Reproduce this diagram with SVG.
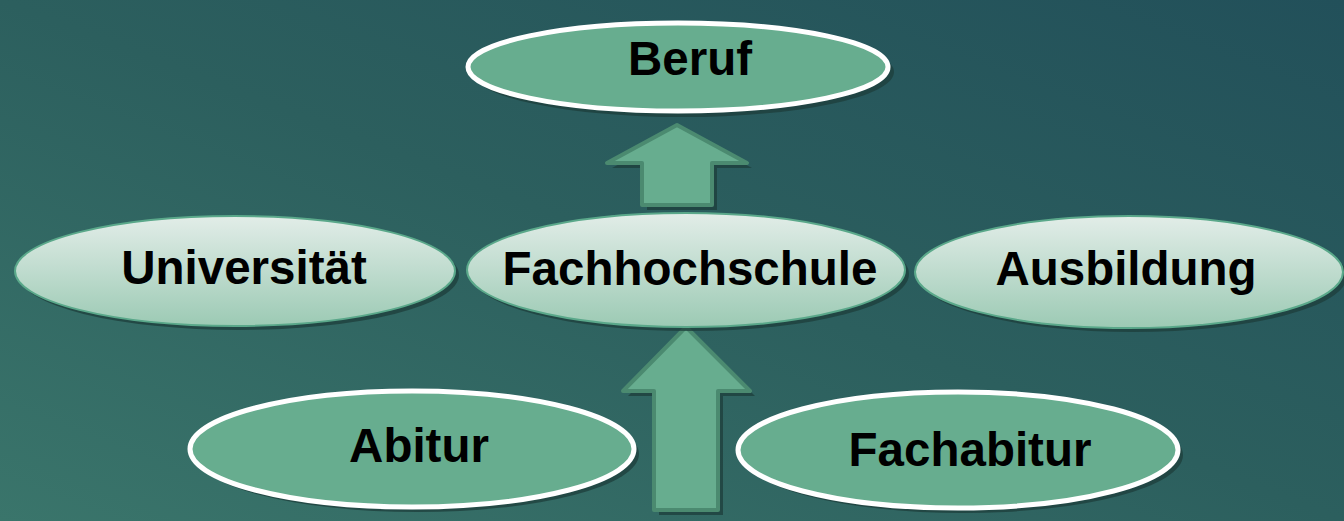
<svg xmlns="http://www.w3.org/2000/svg" width="1344" height="521" viewBox="0 0 1344 521">
<defs>
<linearGradient id="bg" x1="0" y1="1" x2="1" y2="0">
<stop offset="0" stop-color="#3a756b"/>
<stop offset="0.5" stop-color="#2c5f5e"/>
<stop offset="1" stop-color="#22505a"/>
</linearGradient>
<linearGradient id="pale" x1="0" y1="0" x2="0" y2="1">
<stop offset="0" stop-color="#e2ede8"/>
<stop offset="1" stop-color="#9ccab4"/>
</linearGradient>
<style>
.shadow{fill:#1d3d3b;opacity:0.75}
.solid{fill:#67ad8f;stroke:#ffffff;stroke-width:5}
.light{fill:url(#pale);stroke:#5aa88a;stroke-width:2}
.arrow{fill:#67ad8f;stroke:#4b8a70;stroke-width:4;stroke-linejoin:round}
.lbl{font-family:"Liberation Sans",Arial,sans-serif;font-weight:bold;font-size:47.5px;fill:#000;text-anchor:middle}
</style>
</defs>
<rect width="1344" height="521" fill="url(#bg)"/>
<g id="connectors">
<path class="shadow" d="M682,130 L752,168 L717,168 L717,210 L647,210 L647,168 L612,168 Z"/>
<path class="arrow" d="M677,125 L747,163 L712,163 L712,205 L642,205 L642,163 L607,163 Z"/>
<path class="shadow" d="M691,332 L755,396 L723,396 L723,515 L659,515 L659,396 L628,396 Z"/>
<path class="arrow" d="M686,327 L750,391 L718,391 L718,510 L654,510 L654,391 L623,391 Z"/>
</g>
<g id="node-beruf">
<ellipse class="shadow" cx="683" cy="72" rx="211" ry="45"/>
<ellipse class="solid" cx="678" cy="67" rx="210" ry="44"/>
<text class="lbl" x="690" y="75">Beruf</text>
</g>
<g id="node-universitaet">
<ellipse class="shadow" cx="239" cy="275" rx="220" ry="55"/>
<ellipse class="light" cx="235" cy="271" rx="220" ry="55"/>
<text class="lbl" x="244" y="284">Universität</text>
</g>
<g id="node-fachhochschule">
<ellipse class="shadow" cx="690" cy="274" rx="219" ry="57"/>
<ellipse class="light" cx="686" cy="270" rx="219" ry="57"/>
<text class="lbl" x="690" y="285">Fachhochschule</text>
</g>
<g id="node-ausbildung">
<ellipse class="shadow" cx="1133" cy="276" rx="214" ry="56"/>
<ellipse class="light" cx="1129" cy="272" rx="214" ry="56"/>
<text class="lbl" x="1126" y="285">Ausbildung</text>
</g>
<g id="node-abitur">
<ellipse class="shadow" cx="417" cy="454" rx="222" ry="58"/>
<ellipse class="solid" cx="412" cy="449" rx="222" ry="58"/>
<text class="lbl" x="419" y="462">Abitur</text>
</g>
<g id="node-fachabitur">
<ellipse class="shadow" cx="963" cy="455" rx="220" ry="58"/>
<ellipse class="solid" cx="958" cy="450" rx="220" ry="58"/>
<text class="lbl" x="970" y="466">Fachabitur</text>
</g>
</svg>
